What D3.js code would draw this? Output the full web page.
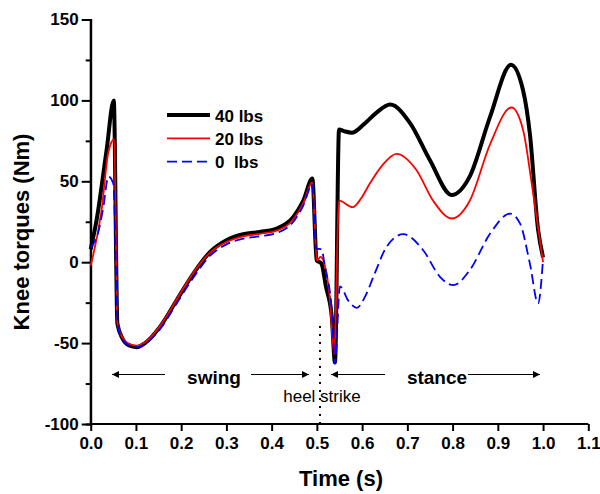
<!DOCTYPE html>
<html>
<head>
<meta charset="utf-8">
<script src="https://cdn.jsdelivr.net/npm/d3@7"></script>
<style>
  body { margin: 0; background: #fff; }
  text { font-family: "Liberation Sans", Arial, sans-serif; }
</style>
</head>
<body>
<div id="chart"></div>
<script>
// 40 lbs
var t40 = [0, 0.013, 0.035, 0.051, 0.059, 0.07, 0.085, 0.102, 0.12, 0.153, 0.19, 0.227, 0.264, 0.30, 0.337, 0.374, 0.411, 0.448, 0.47, 0.49, 0.4995, 0.51, 0.52, 0.533, 0.540, 0.549, 0.56, 0.577, 0.603, 0.63, 0.662, 0.706, 0.75, 0.798, 0.838, 0.883, 0.929, 0.956, 0.971, 0.989, 1.0];
var v40 = [8, 26, 69, 100, -38, -47, -51.5, -52.5, -50, -40, -23.5, -7, 6.4, 13.6, 17.3, 18.7, 20.8, 28, 38, 51.7, 1.2, -0.8, -15, -34, -62, 82, 81, 80, 85, 92, 97.5, 86, 63, 41.5, 53, 90, 122, 106, 79, 20, 3];
// 20 lbs
var t20 = [0, 0.024, 0.039, 0.052, 0.059, 0.07, 0.085, 0.102, 0.12, 0.153, 0.19, 0.227, 0.264, 0.30, 0.337, 0.374, 0.411, 0.448, 0.47, 0.49, 0.5, 0.508, 0.514, 0.529, 0.538, 0.549, 0.579, 0.598, 0.617, 0.645, 0.676, 0.72, 0.757, 0.798, 0.838, 0.883, 0.93, 0.956, 0.975, 1.0];
var v20 = [-2, 32, 68, 76, -38, -46.5, -50.5, -51.5, -49.5, -39.5, -23, -6.5, 6, 12.5, 16, 17.5, 19.5, 26.5, 36.5, 49.5, 1, 3.3, 1.2, -23.5, -57, 38, 34, 39.5, 48.6, 60, 67, 57, 38, 27, 38, 73, 95.6, 81.6, 48.6, 0];
// 0 lbs
var t0 = [0, 0.017, 0.028, 0.039, 0.05, 0.06, 0.07, 0.085, 0.102, 0.12, 0.153, 0.19, 0.227, 0.264, 0.30, 0.337, 0.374, 0.411, 0.448, 0.47, 0.49, 0.498, 0.51, 0.518, 0.533, 0.540, 0.551, 0.57, 0.588, 0.607, 0.625, 0.654, 0.691, 0.735, 0.772, 0.8015, 0.838, 0.883, 0.927, 0.949, 0.971, 0.989, 1.0];
var v0 = [9, 19, 34, 53, 48.6, -40, -47.5, -51.5, -52.5, -50.5, -41.5, -25.5, -9.5, 4, 11, 14.5, 16, 18, 25, 35, 48, 8.5, 8, -3, -30, -62.5, -15, -24, -28.2, -21, -9, 9.5, 17.3, 7.4, -9, -14.2, -4.9, 17.7, 30, 24, -1, -25.5, 2];

var xTicks = [0, 0.1, 0.2, 0.3, 0.4, 0.5, 0.6, 0.7, 0.8, 0.9, 1.0, 1.1];
var yTicks = [-100, -50, 0, 50, 100, 150];
var yMinor = [-75, -25, 25, 75, 125];
var seriesNames = ["40 lbs", "20 lbs", "0  lbs"];

var w = 600, h = 494;
var svg = d3.select("#chart").append("svg").attr("width", w).attr("height", h);

var x = d3.scaleLinear().domain([0, 1.1]).range([90.7, 588.3]);
var y = d3.scaleLinear().domain([-100, 150]).range([424, 19.5]);

function toPts(ts, vs) {
	return ts.map(function(t, i) { return [t, vs[i]]; });
}

var line = d3.line()
	.x(function(d) { return x(d[0]); })
	.y(function(d) { return y(d[1]); })
	.curve(d3.curveMonotoneX);

// Axes
var xAxis = svg.append("g").attr("transform", "translate(0," + y(-100) + ")")
	.call(d3.axisBottom(x).tickValues(xTicks).tickSize(7).tickPadding(6).tickFormat(function(d) { return d.toFixed(1); }));
var yAxis = svg.append("g").attr("transform", "translate(" + x(0) + ",0)")
	.call(d3.axisLeft(y).tickValues(yTicks).tickSize(9).tickPadding(3).tickFormat(function(d) { return String(d); }));
svg.append("g").attr("transform", "translate(" + x(0) + ",0)")
	.call(d3.axisLeft(y).tickValues(yMinor).tickSize(5).tickFormat(""));

svg.selectAll(".domain").attr("stroke", "#000").attr("stroke-width", 2);
svg.selectAll(".tick line").attr("stroke", "#000").attr("stroke-width", 2);
svg.selectAll(".tick text")
	.attr("font-family", "Liberation Sans, Arial, sans-serif")
	.attr("font-size", 17).attr("font-weight", "bold").attr("fill", "#000");
// remove outer tick ends
xAxis.select(".domain").attr("d", "M" + x(0) + ",0H" + x(1.1));
yAxis.select(".domain").attr("d", "M0," + y(-100) + "V" + y(150));

// axis titles
svg.append("text").attr("x", 341).attr("y", 486).attr("text-anchor", "middle")
	.attr("font-size", 22).attr("font-weight", "bold").text("Time (s)");
svg.append("text").attr("transform", "translate(29,232) rotate(-90)").attr("text-anchor", "middle")
	.attr("font-size", 22).attr("font-weight", "bold").text("Knee torques (Nm)");

// heel strike dotted line
svg.append("line").attr("x1", 320).attr("x2", 320).attr("y1", 326).attr("y2", 424)
	.attr("stroke", "#000").attr("stroke-width", 2).attr("stroke-dasharray", "2,6");

// curves
svg.append("path").datum(toPts(t40, v40)).attr("d", line)
	.attr("fill", "none").attr("stroke", "#000").attr("stroke-width", 4).attr("stroke-linejoin", "round");
svg.append("path").datum(toPts(t20, v20)).attr("d", line)
	.attr("fill", "none").attr("stroke", "#ff0000").attr("stroke-width", 1.8);
svg.append("path").datum(toPts(t0, v0)).attr("d", line)
	.attr("fill", "none").attr("stroke", "#0000ff").attr("stroke-width", 1.8).attr("stroke-dasharray", "10,5");

// legend
var legStyles = [
	{ c: "#000", w: 4, dash: null },
	{ c: "#ff0000", w: 1.8, dash: null },
	{ c: "#0000ff", w: 1.8, dash: "10,5" }
];
seriesNames.forEach(function(name, i) {
	var ly = 115 + i * 23.3;
	var s = legStyles[i];
	var l = svg.append("line").attr("x1", 167).attr("x2", 210).attr("y1", ly).attr("y2", ly)
		.attr("stroke", s.c).attr("stroke-width", s.w);
	if (s.dash) l.attr("stroke-dasharray", s.dash);
	svg.append("text").attr("x", 215).attr("y", ly + 6.5).attr("font-size", 17).attr("font-weight", "bold")
		.style("white-space", "pre").text(name);
});

// arrows
var defs = svg.append("defs");
defs.append("marker").attr("id", "head").attr("viewBox", "0 0 10 10").attr("refX", 10).attr("refY", 5)
	.attr("markerWidth", 10).attr("markerHeight", 7).attr("markerUnits", "userSpaceOnUse").attr("orient", "auto")
	.append("path").attr("d", "M0,0L10,5L0,10Z").attr("fill", "#000");

var arrows = [[165, 112], [251, 309], [385, 331], [468, 540]];
arrows.forEach(function(a) {
	svg.append("line").attr("x1", a[0]).attr("x2", a[1]).attr("y1", 374.5).attr("y2", 374.5)
		.attr("stroke", "#000").attr("stroke-width", 1).attr("marker-end", "url(#head)");
});
svg.append("text").attr("x", 214).attr("y", 384).attr("text-anchor", "middle")
	.attr("font-size", 19).attr("font-weight", "bold").text("swing");
svg.append("text").attr("x", 437).attr("y", 384).attr("text-anchor", "middle")
	.attr("font-size", 19).attr("font-weight", "bold").text("stance");
svg.append("text").attr("x", 322).attr("y", 401.5).attr("text-anchor", "middle")
	.attr("font-size", 17).text("heel strike");
</script>
</body>
</html>
